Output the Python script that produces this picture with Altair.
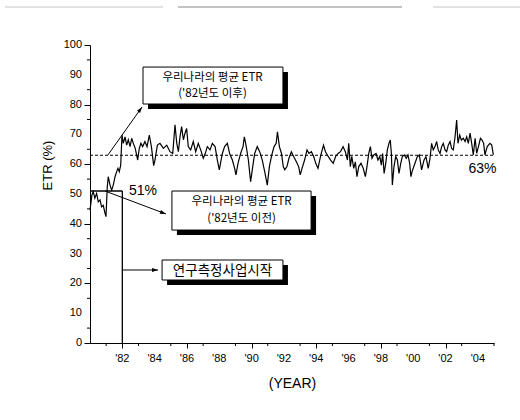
import math
import altair as alt
import pandas as pd

# ---------------- data ----------------
YEARS = [
    1980.0, 1980.12, 1980.2, 1980.3, 1980.41, 1980.51, 1980.62, 1980.72, 1980.82, 1980.93, 1980.99,
    1981.07, 1981.13, 1981.24, 1981.34, 1981.44, 1981.55, 1981.65, 1981.73, 1981.81, 1981.9, 1981.98,
    1982.06, 1982.17, 1982.27, 1982.37, 1982.48, 1982.58, 1982.68, 1982.8, 1982.95,
    1983.05, 1983.15, 1983.26, 1983.4, 1983.53, 1983.67, 1983.8, 1983.94,
    1984.02, 1984.17, 1984.33, 1984.54, 1984.75, 1984.95,
    1985.12, 1985.26, 1985.37, 1985.47, 1985.57, 1985.67, 1985.78, 1985.88, 1985.98,
    1986.08, 1986.23, 1986.39, 1986.54, 1986.7, 1986.85,
    1987.01, 1987.12, 1987.26, 1987.43, 1987.57, 1987.74, 1987.88,
    1988.0, 1988.19, 1988.33, 1988.5, 1988.64, 1988.81, 1988.95,
    1989.03, 1989.16, 1989.32, 1989.47, 1989.55, 1989.67, 1989.8, 1989.94,
    1990.07, 1990.19, 1990.35, 1990.5, 1990.66, 1990.81, 1990.97,
    1991.1, 1991.25, 1991.39, 1991.52, 1991.6, 1991.72, 1991.85, 1991.96,
    1992.05, 1992.19, 1992.31, 1992.46, 1992.6, 1992.77, 1992.91,
    1993.01, 1993.12, 1993.28, 1993.43, 1993.55, 1993.7, 1993.84, 1993.97,
    1994.11, 1994.24, 1994.34, 1994.45, 1994.57, 1994.74, 1994.89,
    1995.05, 1995.2, 1995.35, 1995.5, 1995.66, 1995.8, 1995.93,
    1996.01, 1996.11, 1996.2, 1996.32, 1996.42, 1996.52, 1996.63, 1996.77, 1996.91,
    1997.04, 1997.14, 1997.25, 1997.35, 1997.45, 1997.56, 1997.7, 1997.82, 1997.93,
    1998.03, 1998.11, 1998.2, 1998.3, 1998.4, 1998.5, 1998.58, 1998.65, 1998.71, 1998.81, 1998.92,
    1999.02, 1999.12, 1999.23, 1999.33, 1999.45, 1999.57, 1999.68, 1999.78, 1999.86, 1999.93,
    2000.11, 2000.25, 2000.38, 2000.52, 2000.67, 2000.79, 2000.93,
    2001.04, 2001.14, 2001.24, 2001.35, 2001.45, 2001.55, 2001.66, 2001.76, 2001.86, 2001.97,
    2002.07, 2002.17, 2002.28, 2002.38, 2002.48, 2002.59, 2002.69, 2002.77, 2002.88, 2002.98,
    2003.1, 2003.21, 2003.31, 2003.41, 2003.52, 2003.62, 2003.72, 2003.83, 2003.93,
    2004.06, 2004.16, 2004.26, 2004.36, 2004.44, 2004.58, 2004.75, 2004.86, 2004.96,
]
ETR = [
    44.6, 49.7, 50.8, 48.6, 50.2, 47.4, 48.0, 45.7, 46.2, 43.5, 42.4,
    52.5, 55.8, 53.0, 51.3, 53.0, 55.8, 57.5, 58.6, 57.5, 59.7, 69.8,
    67.0, 69.2, 66.4, 68.2, 65.9, 68.7, 67.0, 65.3, 61.4,
    65.3, 67.0, 65.9, 67.6, 65.9, 69.8, 65.9, 59.5,
    61.4, 66.4, 67.0, 65.3, 66.4, 64.2,
    63.6, 73.2, 67.0, 64.2, 69.2, 72.6, 68.2, 70.4, 72.0,
    65.9, 64.8, 67.6, 64.2, 67.0, 64.8,
    62.0, 63.4, 65.9, 64.8, 67.0, 65.9, 61.4,
    58.1, 63.6, 65.9, 67.0, 63.6, 61.4, 58.6,
    56.4, 60.3, 63.6, 65.9, 69.2, 65.9, 61.4, 54.1,
    59.2, 63.6, 65.9, 64.2, 61.4, 57.5, 53.0,
    59.2, 63.1, 65.9, 67.0, 70.9, 65.9, 63.6, 59.2,
    58.1, 59.2, 62.0, 64.2, 62.6, 60.8, 59.2,
    56.4, 58.6, 61.4, 64.8, 63.6, 64.2, 62.6, 60.3,
    58.6, 62.0, 64.2, 66.4, 64.2, 62.6, 61.4,
    60.3, 62.6, 63.6, 64.2, 65.9, 64.2, 61.4,
    67.0, 59.2, 62.6, 58.6, 60.8, 55.8, 59.2, 60.3, 58.6,
    55.8, 59.2, 63.6, 65.9, 62.0, 63.1, 63.6, 61.4, 62.6,
    59.7, 63.6, 56.9, 60.3, 64.8, 67.0, 68.1, 63.6, 53.0, 59.2, 62.6,
    61.4, 56.9, 60.3, 62.6, 63.1, 62.0, 63.1, 60.3, 55.8, 57.5,
    60.3, 62.5, 63.1, 58.1, 61.4, 62.5, 58.6,
    61.9, 67.0, 64.8, 65.9, 67.6, 64.8, 63.6, 65.9, 67.0, 64.8,
    64.2, 66.4, 67.6, 65.3, 64.8, 69.2, 74.8, 67.0, 69.8, 68.1,
    68.7, 67.6, 69.2, 67.0, 70.4, 67.0, 63.1, 68.7, 63.6,
    66.4, 68.7, 68.1, 67.0, 63.1, 65.9, 67.0, 66.4, 63.1,
]

AVG_AFTER = 63        # average ETR since 1982
AVG_BEFORE = 51       # average ETR before 1982
START_YEAR = 1982     # start of research measurement project
X_MIN, X_MAX = 1980, 2005

Y_MAJOR = [0, 10, 20, 30, 40, 50, 60, 70, 80, 90, 100]
Y_LABELS = ["0", "10", "20", "30", "40", "50", "60", "70", "80", "90", "100"]
Y_MINOR = [5, 15, 25, 35, 45, 55, 65, 75, 85, 95]
X_LABEL_YEARS = [1982, 1984, 1986, 1988, 1990, 1992, 1994, 1996, 1998, 2000, 2002, 2004]
X_LABELS = ["'82", "'84", "'86", "'88", "'90", "'92", "'94", "'96", "'98", "'00", "'02", "'04"]
X_MINOR = [1981, 1983, 1985, 1987, 1989, 1991, 1993, 1995, 1997, 1999, 2001, 2003, 2005]

# annotation boxes (data coordinates)
BOX_X1 = [1983.28, 1985.07, 1984.46]
BOX_X2 = [1991.94, 1993.68, 1991.94]
BOX_Y1 = [92.6, 51.0, 27.85]
BOX_Y2 = [80.2, 37.9, 21.14]

TEXT_X = [1987.58, 1987.58, 1989.38, 1989.38, 1988.2]
TEXT_Y = [89.0, 83.4, 47.4, 41.5, 24.3]
TEXT_LABEL = ["우리나라의 평균 ETR", "('82년도 이후)", "우리나라의 평균 ETR", "('82년도 이전)", "연구측정사업시작"]
TEXT_SIZE = [11.5, 11.5, 11.5, 11.5, 13.5]

ARROW_X1 = [1981.11, 1980.93, 1981.98]
ARROW_Y1 = [63.1, 51.0, 24.5]
ARROW_X2 = [1983.22, 1984.70, 1984.21]
ARROW_Y2 = [79.2, 43.3, 24.5]

PCT_X = [1982.41, 2003.42]
PCT_Y = [51.0, 58.4]
PCT_LABEL = ["51%", "63%"]

# ---------------- layout ----------------
W, H = 404, 298
PX_PER_YEAR = W / (X_MAX - X_MIN)
PX_PER_UNIT = H / 100.0

series = pd.DataFrame({"year": YEARS, "etr": ETR})
boxes = pd.DataFrame({"x": BOX_X1, "x2": BOX_X2, "y": BOX_Y1, "y2": BOX_Y2})
texts = pd.DataFrame({"x": TEXT_X, "y": TEXT_Y, "t": TEXT_LABEL, "s": TEXT_SIZE})
angles = []
for a, b, c, d in zip(ARROW_X1, ARROW_Y1, ARROW_X2, ARROW_Y2):
    dx = (c - a) * PX_PER_YEAR
    dy = -(d - b) * PX_PER_UNIT
    angles.append(math.degrees(math.atan2(dx, -dy)) % 360)
arrows = pd.DataFrame({"x": ARROW_X1, "y": ARROW_Y1, "x2": ARROW_X2, "y2": ARROW_Y2, "ang": angles})
pcts = pd.DataFrame({"x": PCT_X, "y": PCT_Y, "t": PCT_LABEL})

FONT = "Liberation Sans"
KFONT = "Noto Sans CJK KR"

x_scale = alt.Scale(domain=[X_MIN, X_MAX], nice=False, zero=False)
y_scale = alt.Scale(domain=[0, 100], nice=False)

x_axis = alt.Axis(
    values=X_LABEL_YEARS, labels=False, title="(YEAR)", tickSize=5,
    titleFont=FONT, titleFontSize=14, titleFontWeight="normal", titleColor="black",
    titleY=40, titleBaseline="middle", grid=False, domainColor="black", tickColor="black",
)
y_axis = alt.Axis(
    values=Y_MAJOR, labels=False, title="ETR (%)", tickSize=6,
    titleFont=FONT, titleFontSize=13, titleFontWeight="normal", titleColor="black",
    titleX=-43, titleY=120, titleAngle=270, titleAlign="center", titleBaseline="middle",
    grid=False, domainColor="black", tickColor="black",
)

line = alt.Chart(series).mark_line(color="black", strokeWidth=1.2).encode(
    x=alt.X("year:Q", scale=x_scale, axis=x_axis),
    y=alt.Y("etr:Q", scale=y_scale, axis=y_axis),
)

# tick labels drawn as text on the axis scales
y_labels = alt.Chart(pd.DataFrame({"v": Y_MAJOR, "t": Y_LABELS})).mark_text(
    font=FONT, fontSize=11, color="black", align="right", baseline="middle"
).encode(y="v:Q", x=alt.value(-8), text="t:N")
x_labels = alt.Chart(pd.DataFrame({"v": X_LABEL_YEARS, "t": X_LABELS})).mark_text(
    font=FONT, fontSize=11, color="black", align="center", baseline="middle"
).encode(x="v:Q", y=alt.value(H + 16), text="t:N")

# minor ticks
y_minor = alt.Chart(pd.DataFrame({"v": Y_MINOR})).mark_rule(color="black", strokeWidth=1).encode(
    y="v:Q", x=alt.value(-3), x2=alt.value(0)
)
x_minor = alt.Chart(pd.DataFrame({"v": X_MINOR})).mark_rule(color="black", strokeWidth=1).encode(
    x="v:Q", y=alt.value(H), y2=alt.value(H + 3)
)

ref_after = alt.Chart(pd.DataFrame({"x": [X_MIN], "x2": [X_MAX], "y": [AVG_AFTER]})).mark_rule(
    color="black", strokeDash=[3, 2], strokeWidth=1
).encode(x="x:Q", x2="x2:Q", y="y:Q")

ref_before = alt.Chart(pd.DataFrame({"x": [X_MIN], "x2": [START_YEAR], "y": [AVG_BEFORE]})).mark_rule(
    color="black", strokeWidth=1.3
).encode(x="x:Q", x2="x2:Q", y="y:Q")

start_rule = alt.Chart(pd.DataFrame({"x": [START_YEAR], "y": [0], "y2": [AVG_BEFORE]})).mark_rule(
    color="black", strokeWidth=1.3
).encode(x="x:Q", y="y:Q", y2="y2:Q")

arrow_lines = alt.Chart(arrows).mark_rule(color="black", strokeWidth=1).encode(
    x="x:Q", y="y:Q", x2="x2:Q", y2="y2:Q"
)
arrow_heads = alt.Chart(arrows).mark_point(
    shape="M0,0L0.7,2.2L-0.7,2.2Z", filled=True, color="black", size=30, opacity=1
).encode(x="x2:Q", y="y2:Q", angle=alt.Angle("ang:Q", scale=None))

shadows = alt.Chart(boxes).mark_rect(
    color="black", xOffset=5, x2Offset=5, yOffset=5, y2Offset=5
).encode(x="x:Q", x2="x2:Q", y="y:Q", y2="y2:Q")
box_rects = alt.Chart(boxes).mark_rect(fill="white", stroke="black", strokeWidth=1).encode(
    x="x:Q", x2="x2:Q", y="y:Q", y2="y2:Q"
)
box_text = alt.Chart(texts).mark_text(
    font=KFONT, color="black", align="center", baseline="middle"
).encode(x="x:Q", y="y:Q", text="t:N", size=alt.Size("s:Q", scale=None, legend=None))

pct_text = alt.Chart(pcts).mark_text(
    font=FONT, fontSize=14, color="black", align="left", baseline="middle"
).encode(x="x:Q", y="y:Q", text="t:N")

# faint scan lines at the top of the page
scan = alt.Chart(pd.DataFrame({"a": [-85, 88, 343], "b": [73, 312, 430], "o": [0.35, 0.7, 0.35]})).mark_rule(
    color="#555", strokeWidth=1
).encode(
    x=alt.X("a:Q", scale=None), x2="b:Q", y=alt.value(-38),
    opacity=alt.Opacity("o:Q", scale=None, legend=None),
)

chart = alt.layer(
    scan, ref_after, ref_before, start_rule, line, y_minor, x_minor, y_labels, x_labels,
    arrow_lines, arrow_heads, shadows, box_rects, box_text, pct_text,
).properties(
    width=W, height=H,
    padding={"left": 90, "top": 45, "right": 26, "bottom": 77},
    autosize=alt.AutoSizeParams(type="none"),
    background="white",
).configure_view(stroke=None)

chart.save("out.html", embed_options={"renderer": "svg", "actions": False})
